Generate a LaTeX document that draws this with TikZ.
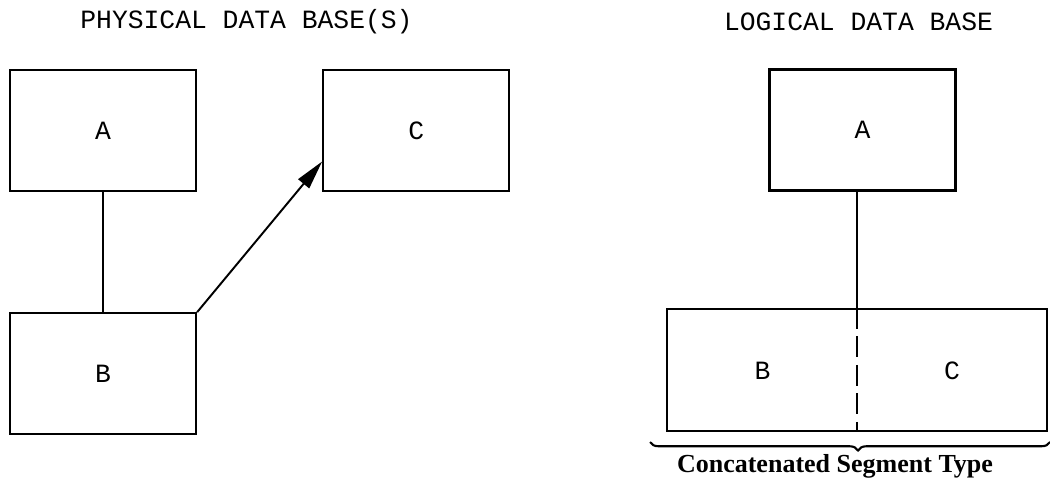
\documentclass[tikz,border=0pt]{standalone}
\usepackage{fontspec}
\setmainfont{Liberation Serif}
\setmonofont{Liberation Mono}
\usetikzlibrary{arrows.meta,positioning,decorations.pathreplacing}

\begin{document}
\begin{tikzpicture}[
    seg/.style={draw, line width=1.3pt, minimum width=3.72cm, minimum height=2.42cm, inner sep=0pt, font=\ttfamily\fontsize{15}{18}\selectfont},
    title/.style={font=\ttfamily\fontsize{15}{18}\selectfont},
    lbl/.style={font=\ttfamily\fontsize{15}{18}\selectfont},
    >={Triangle[length=0.58cm, width=0.28cm]}
  ]
    \useasboundingbox (0,0) rectangle (21,-9.66);

    % physical side
    \node[title] (ptitle) at (4.93,-0.44) {PHYSICAL DATA BASE(S)};
    \node[seg] (pa) at (2.06,-2.61) {A};
    \node[seg, below=2.4cm of pa] (pb) {B};
    \node[seg, right=2.5cm of pa] (pc) {C};

    \draw[line width=1.1pt] (pa) -- (pb);
    \draw[->, line width=1.1pt] (pb.north east) -- ([yshift=-0.62cm]pc.west);

    % logical side
    \node[title] (ltitle) at (17.17,-0.44) {LOGICAL DATA BASE};
    \node[seg] (la) at (17.25,-2.60) {A};
    \node[seg, minimum width=7.6cm, minimum height=2.44cm] (concat) at (17.14,-7.40) {};
    \node[lbl] (lb) at (15.25,-7.42) {B};
    \node[lbl] (lc) at (19.04,-7.42) {C};

    \draw[line width=1.1pt] (la.south -| concat.north) -- (concat.north);
    \draw[line width=1.1pt, dash pattern=on 0.42cm off 0.15cm] (concat.north) -- (concat.south);

    \coordinate (bl) at (13.0,-8.84);
    \coordinate (br) at (21.0,-8.84);
    \draw[line width=1.2pt, decorate, decoration={brace, mirror, amplitude=0.17cm, aspect=0.52}] (bl) -- (br);
    \node[font=\bfseries\fontsize{14.8}{17}\selectfont] (ctype) at (16.70,-9.32) {Concatenated Segment Type};
\end{tikzpicture}
\end{document}
